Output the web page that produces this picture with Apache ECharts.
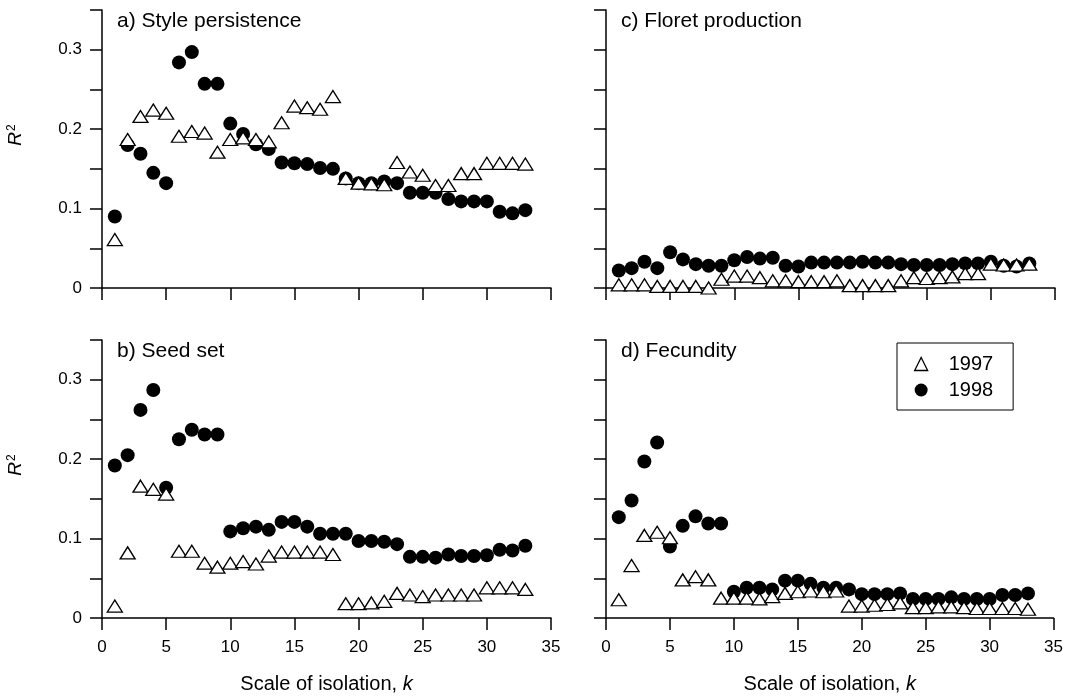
<!DOCTYPE html>
<html><head><meta charset="utf-8">
<script src="https://cdn.jsdelivr.net/npm/echarts@6/dist/echarts.min.js"></script>
<style>html,body{margin:0;padding:0;background:#fff}#c{width:1066px;height:699px}</style>
</head><body><div id="c"></div>
<script>
var k = [];
for (var i = 1; i <= 33; i++) k.push(i);
var panelTitles = ['a) Style persistence', 'c) Floret production', 'b) Seed set', 'd) Fecundity'];
var years = ['1997', '1998'];
var xTicks = [0, 5, 10, 15, 20, 25, 30, 35];
var yTickLabels = ['0', '0.1', '0.2', '0.3'];

var styleP1997 = [0.061,0.187,0.216,0.224,0.220,0.191,0.197,0.195,0.171,0.187,0.189,0.187,0.184,0.208,0.229,0.227,0.225,0.241,0.138,0.132,0.131,0.130,0.158,0.146,0.142,0.129,0.129,0.144,0.144,0.157,0.157,0.157,0.156];
var styleP1998 = [0.090,0.180,0.169,0.145,0.132,0.284,0.297,0.257,0.257,0.207,0.194,0.181,0.175,0.158,0.157,0.156,0.151,0.150,0.138,0.132,0.132,0.134,0.132,0.120,0.120,0.120,0.112,0.109,0.109,0.109,0.096,0.094,0.098];
var floret1997 = [0.004,0.004,0.004,0.002,0.002,0.002,0.002,0.000,0.011,0.015,0.015,0.013,0.009,0.009,0.008,0.008,0.008,0.009,0.003,0.003,0.003,0.003,0.009,0.013,0.012,0.013,0.014,0.018,0.018,0.030,0.029,0.029,0.030];
var floret1998 = [0.022,0.025,0.033,0.025,0.045,0.036,0.030,0.028,0.028,0.035,0.039,0.037,0.038,0.028,0.027,0.032,0.032,0.032,0.032,0.033,0.032,0.032,0.030,0.029,0.029,0.029,0.030,0.031,0.031,0.033,0.028,0.027,0.031];
var seed1997 = [0.015,0.082,0.166,0.162,0.156,0.084,0.084,0.069,0.064,0.069,0.071,0.068,0.078,0.083,0.083,0.083,0.083,0.080,0.018,0.018,0.019,0.021,0.031,0.029,0.027,0.029,0.029,0.029,0.029,0.038,0.038,0.038,0.036];
var seed1998 = [0.192,0.205,0.262,0.287,0.164,0.225,0.237,0.231,0.231,0.109,0.113,0.115,0.111,0.121,0.121,0.115,0.106,0.106,0.106,0.097,0.097,0.096,0.093,0.077,0.077,0.076,0.080,0.078,0.078,0.079,0.086,0.085,0.091];
var fec1997 = [0.023,0.066,0.104,0.108,0.101,0.048,0.052,0.048,0.025,0.025,0.025,0.024,0.027,0.031,0.033,0.034,0.033,0.034,0.015,0.015,0.016,0.017,0.019,0.013,0.013,0.014,0.014,0.013,0.012,0.012,0.012,0.012,0.011];
var fec1998 = [0.127,0.148,0.197,0.221,0.090,0.116,0.128,0.119,0.119,0.033,0.038,0.038,0.036,0.047,0.047,0.043,0.038,0.038,0.036,0.030,0.030,0.030,0.031,0.024,0.024,0.024,0.026,0.024,0.024,0.024,0.029,0.029,0.031];

var data1997 = [styleP1997, floret1997, seed1997, fec1997];
var data1998 = [styleP1998, floret1998, seed1998, fec1998];

function pairs(arr){ return arr.map(function(v,i){ return [k[i], v]; }); }

var FONT = 'Liberation Sans, Arial, Helvetica, sans-serif';
var grids = [
  {left: 102, top: 10, width: 449, height: 278},
  {left: 606, top: 10, width: 449, height: 278},
  {left: 102, top: 340, width: 449, height: 278},
  {left: 606, top: 340, width: 449, height: 278}
];
var axisLine = {show: true, onZero: false, lineStyle: {color: '#000', width: 1.5}};
var xAxes = [], yAxes = [], series = [], titles = [];
for (var g = 0; g < 4; g++) {
  var bottomRow = g >= 2, leftCol = (g % 2 === 0);
  xAxes.push({
    gridIndex: g, type: 'value', min: xTicks[0], max: xTicks[xTicks.length-1], interval: 5,
    axisLine: axisLine,
    axisTick: {show: true, inside: false, length: 12, lineStyle: {color: '#000', width: 1.5}},
    axisLabel: {show: bottomRow, color: '#000', fontSize: 17, fontFamily: FONT, margin: 21},
    splitLine: {show: false},
    name: bottomRow ? 'Scale of isolation, {i|k}' : '',
    nameLocation: 'middle', nameGap: 56,
    nameTextStyle: {color: '#000', fontSize: 20, fontFamily: FONT,
      rich: {i: {fontStyle: 'italic', fontSize: 20, fontFamily: FONT, color: '#000'}}}
  });
  yAxes.push({
    gridIndex: g, type: 'value', min: 0, max: 0.35, interval: 0.05,
    axisLine: axisLine,
    axisTick: {show: true, inside: false, length: 12, lineStyle: {color: '#000', width: 1.5}},
    axisLabel: {show: leftCol, color: '#000', fontSize: 17, fontFamily: FONT, margin: 20,
      formatter: function(v){
        var t = Math.round(v * 100);
        if (t % 10 !== 0) return '';
        var idx = t / 10;
        return yTickLabels[idx] !== undefined ? yTickLabels[idx] : '';
      }},
    splitLine: {show: false},
    name: leftCol ? '{i|R}{s|2}' : '',
    nameLocation: 'middle', nameGap: 76, nameRotate: 90,
    nameTextStyle: {color: '#000', fontSize: 19, fontFamily: FONT, padding: [0, 0, 0, 28],
      rich: {i: {fontStyle: 'italic', fontSize: 19, fontFamily: FONT, color: '#000'},
             s: {fontSize: 12, fontFamily: FONT, color: '#000', verticalAlign: 'top', padding: [0,0,8,1]}}}
  });
  series.push({
    name: years[1], type: 'scatter', xAxisIndex: g, yAxisIndex: g,
    data: pairs(data1998[g]), symbol: 'circle', symbolSize: 14,
    itemStyle: {color: '#000', borderColor: '#000', borderWidth: 0, opacity: 1},
    z: 2, animation: false
  });
  series.push({
    name: years[0], type: 'scatter', xAxisIndex: g, yAxisIndex: g,
    data: pairs(data1997[g]), symbol: 'triangle', symbolSize: [15, 12],
    itemStyle: {color: '#fff', borderColor: '#000', borderWidth: 1.3, opacity: 1},
    z: 3, animation: false
  });
  titles.push({
    text: panelTitles[g], left: grids[g].left + 10, top: grids[g].top - 4,
    textStyle: {color: '#000', fontSize: 21, fontWeight: 'normal', fontFamily: FONT}
  });
}

var chart = echarts.init(document.getElementById('c'), null, {renderer: 'canvas'});
chart.setOption({
  backgroundColor: '#fff',
  animation: false,
  title: titles,
  grid: grids,
  xAxis: xAxes,
  yAxis: yAxes,
  legend: {
    data: [
      {name: years[0], icon: 'triangle', itemStyle: {color: '#fff', borderColor: '#000', borderWidth: 1.3}},
      {name: years[1], icon: 'circle', itemStyle: {color: '#000'}}
    ],
    orient: 'vertical', left: 897, top: 343,
    padding: [11, 20, 10, 17], itemGap: 6, itemWidth: 13, itemHeight: 13,
    borderColor: '#000', borderWidth: 1, backgroundColor: '#fff',
    textStyle: {color: '#000', fontSize: 20, fontFamily: FONT, padding: [0, 0, 0, 16]},
    selectedMode: false
  },
  series: series
});
</script>
</body></html>
